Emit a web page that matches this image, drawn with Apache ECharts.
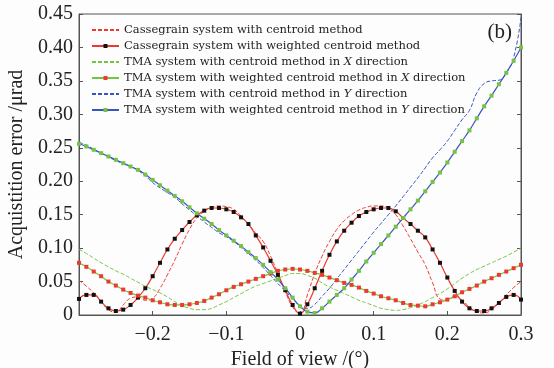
<!DOCTYPE html>
<html>
<head>
<meta charset="utf-8">
<script src="https://cdn.jsdelivr.net/npm/echarts@6/dist/echarts.min.js"></script>
<style>
  html, body { margin: 0; padding: 0; background: #fdfdfd; }
  #chart { width: 554px; height: 368px; }
</style>
</head>
<body>
<div id="chart"></div>
<script>
// field of view (deg)
var fov = [-0.30,-0.29,-0.28,-0.27,-0.26,-0.25,-0.24,-0.23,-0.22,-0.21,
           -0.20,-0.19,-0.18,-0.17,-0.16,-0.15,-0.14,-0.13,-0.12,-0.11,
           -0.10,-0.09,-0.08,-0.07,-0.06,-0.05,-0.04,-0.03,-0.02,-0.01,
            0.00, 0.01, 0.02, 0.03, 0.04, 0.05, 0.06, 0.07, 0.08, 0.09,
            0.10, 0.11, 0.12, 0.13, 0.14, 0.15, 0.16, 0.17, 0.18, 0.19,
            0.20, 0.21, 0.22, 0.23, 0.24, 0.25, 0.26, 0.27, 0.28, 0.29, 0.30];

// Cassegrain, centroid method
var casCentroid = [0.052,0.043,0.033,0.020,0.008,0.004,0.015,0.025,0.027,0.022,
                   0.025,0.040,0.060,0.082,0.106,0.128,0.145,0.155,0.161,0.163,
                   0.162,0.158,0.148,0.136,0.122,0.110,0.088,0.062,0.035,0.012,
                   0.002,0.030,0.062,0.088,0.110,0.128,0.141,0.150,0.157,0.161,
                   0.163,0.163,0.160,0.150,0.133,0.114,0.094,0.075,0.048,0.024,
                   0.022,0.028,0.022,0.012,0.005,0.003,0.008,0.018,0.030,0.041,0.050];
// Cassegrain, weighted centroid method
var casWeighted = [0.024,0.030,0.030,0.020,0.010,0.006,0.008,0.015,0.026,0.040,
                   0.058,0.078,0.098,0.114,0.127,0.139,0.149,0.156,0.160,0.160,
                   0.158,0.154,0.146,0.136,0.119,0.101,0.081,0.060,0.037,0.015,
                   0.002,0.016,0.040,0.066,0.090,0.110,0.126,0.138,0.148,0.154,
                   0.158,0.160,0.160,0.155,0.145,0.136,0.126,0.116,0.098,0.078,
                   0.056,0.036,0.020,0.010,0.006,0.006,0.010,0.018,0.027,0.030,0.023];
// TMA, centroid, X
var tmaXCentroid = [0.098,0.092,0.085,0.078,0.072,0.066,0.061,0.055,0.049,0.043,
                    0.038,0.033,0.027,0.020,0.014,0.010,0.008,0.008,0.010,0.015,
                    0.020,0.026,0.032,0.038,0.043,0.047,0.051,0.055,0.059,0.062,
                    0.062,0.059,0.055,0.048,0.042,0.037,0.032,0.027,0.022,0.018,
                    0.014,0.010,0.008,0.007,0.008,0.011,0.015,0.020,0.026,0.032,
                    0.039,0.047,0.055,0.062,0.068,0.073,0.078,0.083,0.088,0.094,0.100];
// TMA, weighted centroid, X
var tmaXWeighted = [0.078,0.072,0.065,0.058,0.050,0.044,0.038,0.033,0.029,0.026,
                    0.022,0.019,0.016,0.015,0.015,0.016,0.018,0.021,0.026,0.031,
                    0.037,0.042,0.046,0.050,0.054,0.058,0.062,0.066,0.068,0.069,
                    0.068,0.066,0.063,0.060,0.056,0.052,0.048,0.045,0.041,0.036,
                    0.032,0.028,0.025,0.022,0.018,0.015,0.014,0.013,0.016,0.019,
                    0.023,0.028,0.034,0.039,0.044,0.050,0.055,0.060,0.065,0.070,0.075];
// TMA, centroid, Y
var tmaYCentroid = [0.258,0.254,0.248,0.242,0.236,0.231,0.226,0.222,0.216,0.208,
                    0.198,0.190,0.183,0.176,0.166,0.157,0.148,0.139,0.131,0.123,
                    0.117,0.110,0.101,0.092,0.082,0.071,0.059,0.047,0.036,0.024,
                    0.014,0.010,0.016,0.028,0.040,0.054,0.068,0.082,0.096,0.110,
                    0.124,0.137,0.150,0.163,0.177,0.191,0.205,0.220,0.235,0.247,
                    0.260,0.276,0.292,0.306,0.332,0.346,0.350,0.351,0.362,0.385,0.445];
// TMA, weighted centroid, Y
var tmaYWeighted = [0.256,0.252,0.247,0.242,0.237,0.232,0.227,0.222,0.217,0.210,
                    0.202,0.194,0.186,0.178,0.170,0.161,0.152,0.144,0.136,0.127,
                    0.119,0.111,0.103,0.094,0.085,0.075,0.064,0.053,0.040,0.026,
                    0.013,0.005,0.003,0.010,0.020,0.030,0.040,0.053,0.066,0.080,
                    0.093,0.106,0.119,0.132,0.145,0.158,0.171,0.185,0.199,0.213,
                    0.228,0.244,0.260,0.276,0.294,0.312,0.328,0.345,0.362,0.380,0.400];

var names = ['Cassegrain system with centroid method',
             'Cassegrain system with weighted centroid method',
             'TMA system with centroid method in X direction',
             'TMA system with weighted centroid method in X direction',
             'TMA system with centroid method in Y direction',
             'TMA system with weighted centroid method in Y direction'];

var serif = '"Liberation Serif", "DejaVu Serif", serif';
var legendFont = '"DejaVu Serif", serif';
var RED = '#ec3a2e', GREEN = '#74c441', BLUE = '#3953c4';

function pairs(arr){
  return fov.map(function(x, i){ return [x, arr[i]]; });
}

function dashed(name, arr, color){
  return {
    name: name, type: 'line', data: pairs(arr), smooth: true,
    symbol: 'none',
    lineStyle: { color: color, width: 1, type: [4, 2] },
    itemStyle: { color: color },
    z: 2
  };
}
function marked(name, arr, lineColor, markColor){
  return {
    name: name, type: 'line', data: pairs(arr), smooth: true,
    symbol: 'rect', symbolSize: 4, showSymbol: true,
    lineStyle: { color: lineColor, width: 1.2 },
    itemStyle: { color: markColor },
    z: 3
  };
}

// legend entries: dashed ones get no marker in their icon
var legendData = names.map(function(n, i){
  return i % 2 === 0 ? { name: n, itemStyle: { opacity: 0 } } : { name: n };
});

var chart = echarts.init(document.getElementById('chart'));
var option = {
  backgroundColor: '#fdfdfd',
  animation: false,
  grid: {
    left: 79, right: 33, top: 14, bottom: 53, outerBoundsMode: 'none',
    show: true, borderColor: '#555', borderWidth: 1
  },
  legend: {
    orient: 'vertical', left: 86, top: 19, itemGap: 4,
    itemWidth: 27, itemHeight: 5,
    data: legendData,
    textStyle: {
      fontFamily: legendFont, fontSize: 11.5, color: '#222',
      rich: {
        n: { fontFamily: legendFont, fontSize: 11.5, color: '#222' },
        i: { fontFamily: legendFont, fontSize: 11.5, color: '#222', fontStyle: 'italic' }
      }
    },
    formatter: function(name){
      var m = name.match(/^(.* in )([XY])( direction)$/);
      if (m) return '{n|' + m[1] + '}{i|' + m[2] + '}{n|' + m[3] + '}';
      return '{n|' + name + '}';
    }
  },
  xAxis: {
    type: 'value', min: -0.3, max: 0.3, interval: 0.1,
    name: 'Field of view /(°)', nameLocation: 'middle', nameGap: 29,
    nameTextStyle: { fontFamily: serif, fontSize: 20, color: '#222' },
    axisLine: { onZero: false, lineStyle: { color: '#555' } },
    axisTick: { inside: true, length: 4, lineStyle: { color: '#555' } },
    splitLine: { show: false },
    axisLabel: {
      fontFamily: serif, fontSize: 20, color: '#222', margin: 10,
      formatter: function(v){
        if (Math.abs(v + 0.3) < 1e-9) return '';
        var s = Math.abs(v) < 1e-9 ? '0' : (+v.toFixed(1)).toString();
        return s.replace('-', '\u2212');
      }
    }
  },
  yAxis: [{
    type: 'value', min: 0, max: 0.45, interval: 0.05,
    name: 'Acquistition error /\u03bcrad', nameLocation: 'middle', nameGap: 50,
    nameTextStyle: { fontFamily: serif, fontSize: 20, color: '#222' },
    axisLine: { show: true, onZero: false, lineStyle: { color: '#555' } },
    axisTick: { show: true, inside: true, length: 4, lineStyle: { color: '#555' } },
    splitLine: { show: false },
    axisLabel: {
      fontFamily: serif, fontSize: 20, color: '#222', margin: 6,
      formatter: function(v){ return v === 0 ? '0' : v.toFixed(2); }
    }
  }, {
    type: 'value', min: 0, max: 0.45, interval: 0.05, position: 'right',
    axisLine: { show: true, onZero: false, lineStyle: { color: '#555' } },
    axisTick: { show: true, inside: true, length: 4, lineStyle: { color: '#555' } },
    axisLabel: { show: false },
    splitLine: { show: false }
  }],
  graphic: [{
    type: 'text', right: 42, top: 22,
    style: { text: '(b)', font: '21px ' + serif, fill: '#222' }
  }],
  series: [
    dashed(names[0], casCentroid, RED),
    marked(names[1], casWeighted, RED, '#111'),
    dashed(names[2], tmaXCentroid, GREEN),
    marked(names[3], tmaXWeighted, GREEN, RED),
    dashed(names[4], tmaYCentroid, BLUE),
    marked(names[5], tmaYWeighted, BLUE, GREEN)
  ]
};
chart.setOption(option);
</script>
</body>
</html>
